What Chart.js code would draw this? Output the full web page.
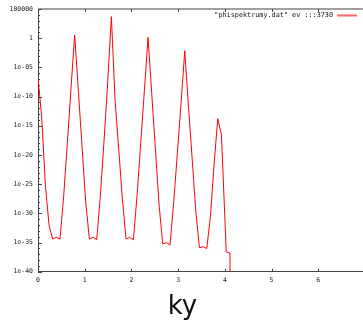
<!DOCTYPE html>
<html><head><meta charset="utf-8">
<script src="https://cdn.jsdelivr.net/npm/chart.js@4/dist/chart.umd.min.js"></script>
<style>html,body{margin:0;padding:0;background:#fff;overflow:hidden}
#wrap{width:374px;height:326px;position:relative}</style></head>
<body><div id="wrap"><canvas id="c"></canvas></div>
<script>
const kyValues = [0, 0.079, 0.157, 0.236, 0.314, 0.393, 0.471, 0.55, 0.628, 0.707,
  0.785, 0.864, 0.942, 1.021, 1.1, 1.178, 1.257, 1.335, 1.414, 1.492,
  1.571, 1.649, 1.728, 1.806, 1.885, 1.963, 2.042, 2.12, 2.199, 2.277,
  2.356, 2.435, 2.513, 2.592, 2.67, 2.749, 2.827, 2.906, 2.985, 3.063,
  3.142, 3.22, 3.299, 3.377, 3.456, 3.534, 3.613, 3.691, 3.77, 3.848,
  3.927, 4.03, 4.11, 4.12];
const spectrum = [2e-7, 3e-14, 1e-25, 1e-32, 4e-35, 8e-35, 4e-35, 1e-27, 1e-18, 3e-9,
  3.5, 1e-9, 3e-19, 1e-28, 4e-35, 8e-35, 3e-35, 1e-27, 3e-18, 3e-8,
  5000, 3e-11, 1e-19, 3e-28, 4e-35, 8e-35, 3e-35, 1e-27, 1e-18, 1e-9,
  1.4, 3e-10, 1e-19, 3e-29, 6e-36, 1e-35, 4e-36, 1e-28, 3e-20, 1e-11,
  7e-3, 3e-12, 3e-21, 3e-30, 1.3e-36, 2e-36, 1e-36, 3e-31, 3e-22, 1.6e-14,
  3e-17, 2.5e-37, 1.6e-37, 1e-60];
const yTickValues = [1e-40, 1e-35, 1e-30, 1e-25, 1e-20, 1e-15, 1e-10, 1e-5, 1, 1e5];
const yTickLabels = ['1e-40', '1e-35', '1e-30', '1e-25', '1e-20', '1e-15', '1e-10', '1e-05', '1', '100000'];
const xTickValues = [0, 1, 2, 3, 4, 5, 6];
const seriesLabel = '"phispektrumy.dat" ev :::3730';
const titleText = 'ky';
const lineColor = '#ff0000';

const frame = {
  id: 'gnuplotFrame',
  afterDatasetsDraw(chart) {
    const {ctx, chartArea: a, scales: {x, y}} = chart;
    ctx.save();
    ctx.strokeStyle = '#a0a0a0'; ctx.lineWidth = 2;
    ctx.beginPath(); ctx.moveTo(a.left, a.top); ctx.lineTo(a.right + 10, a.top); ctx.stroke();
    ctx.strokeStyle = '#444'; ctx.lineWidth = 1;
    ctx.beginPath();
    for (let e = -40; e <= 5; e++) {
      const py = Math.round(y.getPixelForValue(Math.pow(10, e))) + 0.5;
      const len = (e % 5 === 0) ? 4 : 2;
      ctx.moveTo(a.left, py); ctx.lineTo(a.left + len, py);
    }
    for (const v of xTickValues) {
      const px = Math.round(x.getPixelForValue(v)) + 0.5;
      ctx.moveTo(px, a.bottom); ctx.lineTo(px, a.bottom - 3);
      ctx.moveTo(px, a.top); ctx.lineTo(px, a.top + 3);
    }
    ctx.stroke();
    const ds = chart.data.datasets[0];
    const ly = a.top + 6;
    ctx.font = '6.8px "DejaVu Sans Mono"';
    ctx.fillStyle = '#111'; ctx.textAlign = 'right'; ctx.textBaseline = 'middle';
    ctx.fillText(ds.label, a.right - 32, ly);
    ctx.fillStyle = lineColor;
    ctx.globalAlpha = 0.6;
    ctx.fillRect(a.right - 28, ly - 0.5, 20, 2);
    ctx.restore();
  }
};

new Chart(document.getElementById('c'), {
  type: 'line',
  data: {
    datasets: [{
      label: seriesLabel,
      data: kyValues.map((k, i) => ({x: k, y: spectrum[i]})),
      borderColor: lineColor,
      borderWidth: 1,
      pointRadius: 0,
      tension: 0,
      fill: false
    }]
  },
  options: {
    responsive: true,
    maintainAspectRatio: false,
    animation: false,
    layout: {padding: {left: 0, top: 9, right: 9, bottom: 0}},
    plugins: {
      legend: {display: false},
      tooltip: {enabled: false},
      title: {
        display: true, text: titleText, position: 'bottom',
        font: {family: '"DejaVu Sans"', size: 26, weight: 'normal', lineHeight: 1.2},
        color: '#111', padding: {top: 0, bottom: 3}
      }
    },
    scales: {
      x: {
        type: 'linear', min: 0, max: 7,
        grid: {display: false, drawTicks: false},
        border: {display: true, color: '#444', width: 1},
        afterBuildTicks: s => { s.ticks = xTickValues.map(v => ({value: v})); },
        afterFit: s => { s.height = 20; },
        ticks: {autoSkip: false, maxRotation: 0, padding: 5, color: '#222',
          font: {family: '"DejaVu Sans Mono"', size: 6.5}}
      },
      y: {
        type: 'logarithmic', min: 1e-40, max: 1e5,
        grid: {display: false, drawTicks: false},
        border: {display: true, color: '#444', width: 1},
        afterBuildTicks: s => { s.ticks = yTickValues.map(v => ({value: v})); },
        afterFit: s => { s.width = 38; },
        ticks: {autoSkip: false, padding: 5, color: '#222',
          font: {family: '"DejaVu Sans Mono"', size: 6.5},
          callback: (v, i) => yTickLabels[i]}
      }
    }
  },
  plugins: [frame]
});
</script></body></html>
